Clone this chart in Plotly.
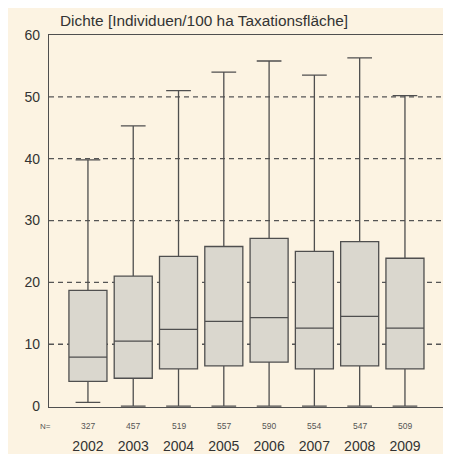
import plotly.graph_objects as go

years = ["2002", "2003", "2004", "2005", "2006", "2007", "2008", "2009"]
n_counts = [327, 457, 519, 557, 590, 554, 547, 509]
lower = [0.6, 0, 0, 0, 0, 0, 0, 0]
q1 = [4.0, 4.5, 6.0, 6.5, 7.1, 6.0, 6.5, 6.0]
median = [7.9, 10.5, 12.4, 13.7, 14.3, 12.6, 14.5, 12.6]
q3 = [18.7, 21.0, 24.2, 25.8, 27.1, 25.0, 26.6, 23.9]
upper = [39.8, 45.3, 51.0, 54.0, 55.8, 53.5, 56.3, 50.2]
y_ticks = [0, 10, 20, 30, 40, 50, 60]
grid_vals = [10, 20, 30, 40, 50]

BG = "#FCF3E2"
LINE = "#4f4f4f"

fig = go.Figure()
fig.add_trace(go.Box(
    x=list(range(len(years))), q1=q1, median=median, q3=q3,
    lowerfence=lower, upperfence=upper,
    fillcolor="#DAD7CE",
    line=dict(color=LINE, width=1.3),
    width=0.84, whiskerwidth=0.65,
    boxpoints=False, hoverinfo="skip",
    showlegend=False,
))

for g in grid_vals:
    fig.add_shape(type="line", xref="paper", yref="y", x0=0, x1=1, y0=g, y1=g,
                  line=dict(color="#555555", width=1.3, dash="5px,4px"), layer="below")

fig.add_annotation(text="N=", xref="paper", yref="paper", x=-0.01, y=-0.052,
                   showarrow=False, font=dict(size=8, color="#555555"),
                   xanchor="center", yanchor="middle")
for i, n in enumerate(n_counts):
    fig.add_annotation(text=str(n), x=i, xref="x", yref="paper", y=-0.052,
                       showarrow=False, font=dict(size=8.5, color="#555555"),
                       xanchor="center", yanchor="middle")

fig.add_annotation(text="Dichte [Individuen/100 ha Taxationsfläche]",
                   xref="paper", yref="paper", x=0.022, y=1.01,
                   xanchor="left", yanchor="bottom", showarrow=False,
                   font=dict(size=15.4, color="#333333"))

fig.update_layout(
    width=443, height=446,
    margin=dict(l=41, r=8, t=27, b=47),
    paper_bgcolor=BG, plot_bgcolor=BG,
    font=dict(family="Liberation Sans, Arial, sans-serif", color="#333333"),
    xaxis=dict(range=[-0.86, 7.84], showgrid=False, automargin=False,
               tickvals=list(range(len(years))), ticktext=years,
               showline=True, mirror=True, linecolor=LINE, linewidth=1.3,
               ticks="", tickfont=dict(size=14, color="#333333"),
               ticklabelstandoff=26, zeroline=False),
    yaxis=dict(range=[-0.15, 60], tickvals=y_ticks, showgrid=False, automargin=False,
               showline=True, mirror=True, linecolor=LINE, linewidth=1.3,
               ticks="", tickfont=dict(size=14, color="#333333"),
               ticklabelstandoff=5, zeroline=False),
)
fig.write_html("out.html")
